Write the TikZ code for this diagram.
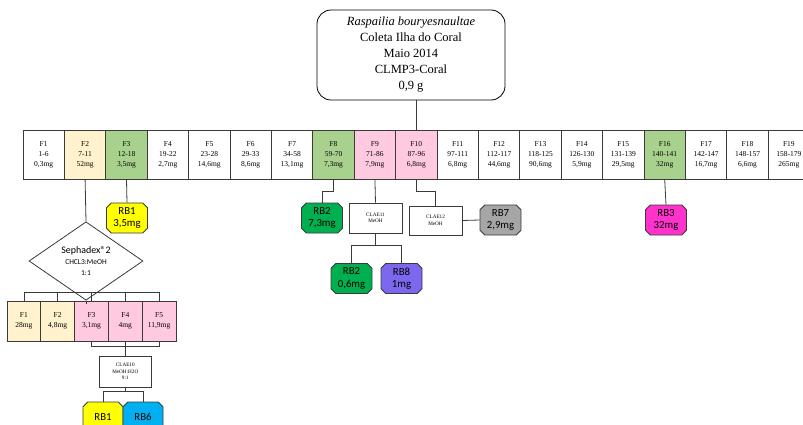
\documentclass[tikz,border=0pt]{standalone}
\usepackage{fontspec}
\setmainfont{Liberation Serif}
\newfontfamily\calib{Carlito}
\usetikzlibrary{shapes.geometric,shapes.misc}

\definecolor{lnc}{HTML}{3A3A3A}
\definecolor{cream}{HTML}{FFF2CC}
\definecolor{leaf}{HTML}{A9D18E}
\definecolor{blush}{HTML}{FFCADF}
\definecolor{rbyellow}{HTML}{FFFF00}
\definecolor{rbgreen}{HTML}{00B050}
\definecolor{rbmagenta}{HTML}{FF33CC}
\definecolor{rbcyan}{HTML}{00B0F0}
\definecolor{rbgray}{HTML}{A6A6A6}
\definecolor{rbviolet}{HTML}{7B68EE}

\tikzset{
  link/.style={draw=lnc, line width=0.8pt},
  frac/.style={draw=lnc, line width=0.8pt, minimum width=41.4pt, minimum height=49pt,
    inner sep=0pt, align=center, font=\fontsize{7.5}{10}\selectfont},
  subfrac/.style={draw=lnc, line width=0.8pt, minimum width=33.8pt, minimum height=40pt,
    inner sep=0pt, align=center, font=\fontsize{7.5}{10}\selectfont},
  hplc/.style={draw=lnc, line width=0.8pt, fill=white, inner sep=0pt, align=center,
    font=\fontsize{5.2}{6.5}\selectfont},
  rb/.style={chamfered rectangle, chamfered rectangle xsep=2.4pt, chamfered rectangle ysep=2.4pt,
    draw=lnc, line width=0.8pt, minimum width=41pt, minimum height=30pt, inner sep=0pt,
    align=center, font=\calib\fontsize{10.8}{12.5}\selectfont}
}

\begin{document}
\begin{tikzpicture}[x=1pt,y=-1pt]
\useasboundingbox (0,0) rectangle (803,425);
\clip (0,0) rectangle (803,425);

% sample
\node[draw=black, line width=0.8pt, rounded corners=14pt, minimum width=188pt, minimum height=90pt,
  align=center, font=\fontsize{12.5}{16}\selectfont] (src) at (411,55)
  {\textit{Raspailia bouryesnaultae}\\Coleta Ilha do Coral\\Maio 2014\\CLMP3-Coral\\0,9 g};

% first fractionation
\node[frac] (f1) at (43.7,154.5) {F1\\1-6\\0,3mg};
\node[frac, fill=cream] (f2) at (85.1,154.5) {F2\\7-11\\52mg};
\node[frac, fill=leaf] (f3) at (126.5,154.5) {F3\\12-18\\3,5mg};
\node[frac] (f4) at (167.9,154.5) {F4\\19-22\\2,7mg};
\node[frac] (f5) at (209.3,154.5) {F5\\23-28\\14,6mg};
\node[frac] (f6) at (250.7,154.5) {F6\\29-33\\8,6mg};
\node[frac] (f7) at (292.1,154.5) {F7\\34-58\\13,1mg};
\node[frac, fill=leaf] (f8) at (333.5,154.5) {F8\\59-70\\7,3mg};
\node[frac, fill=blush] (f9) at (374.9,154.5) {F9\\71-86\\7,9mg};
\node[frac, fill=blush] (f10) at (416.3,154.5) {F10\\87-96\\6,8mg};
\node[frac] (f11) at (457.7,154.5) {F11\\97-111\\6,8mg};
\node[frac] (f12) at (499.1,154.5) {F12\\112-117\\44,6mg};
\node[frac] (f13) at (540.5,154.5) {F13\\118-125\\90,6mg};
\node[frac] (f14) at (581.9,154.5) {F14\\126-130\\5,9mg};
\node[frac] (f15) at (623.3,154.5) {F15\\131-139\\29,5mg};
\node[frac, fill=leaf] (f16) at (664.7,154.5) {F16\\140-141\\32mg};
\node[frac] (f17) at (706.1,154.5) {F17\\142-147\\16,7mg};
\node[frac] (f18) at (747.5,154.5) {F18\\148-157\\6,6mg};
\node[frac] (f19) at (788.9,154.5) {F19\\158-179\\265mg};

\draw[link] (src.south -| f10) -- (f10.north);

% F2 branch: Sephadex column
\node[diamond, draw=lnc, line width=0.8pt, fill=white, minimum width=114pt, minimum height=58pt,
  inner sep=0pt, align=center] (dia) at (86,261)
  {{\calib\fontsize{10}{12}\selectfont Sephadex®2}\\[-1pt]
   {\calib\fontsize{7.5}{12}\selectfont CHCL3:MeOH}\\[-1pt]
   {\calib\fontsize{7.5}{10}\selectfont 1:1}};
\draw[link] (f2.south) -- (dia.north);

\node[rb, fill=rbyellow] (rb1a) at (127,218) {RB1\\3,5mg};
\draw[link] (f3.south) -- (rb1a.north);

\node[subfrac, fill=cream] (g1) at (23.9,321) {F1\\28mg};
\node[subfrac, fill=cream] (g2) at (57.7,321) {F2\\4,8mg};
\node[subfrac, fill=blush] (g3) at (91.5,321) {F3\\3,1mg};
\node[subfrac, fill=blush] (g4) at (125.3,321) {F4\\4mg};
\node[subfrac, fill=blush] (g5) at (159.1,321) {F5\\11,9mg};

\draw[link] (dia.south) -- ++(0,3);
\draw[link] (g1.north) -- ++(0,-8) -| (g5.north);
\foreach \g in {g2,g3,g4} \draw[link] (\g.north) -- ++(0,-8);

\node[hplc, minimum width=52pt, minimum height=31pt] (c10) at (125.3,371.5) {CLAE10\\MeOH:H2O\\9:1};
\draw[link] (g3.south) -- ++(0,5) -| (g5.south);
\draw[link] (g4.south) -- (c10.north);

\node[rb, fill=rbyellow, minimum width=40pt] (rb1b) at (103,417) {RB1};
\node[rb, fill=rbcyan, minimum width=40pt] (rb6) at (143,417) {RB6};
\draw[link] (c10.south) -- ++(0,5);
\draw[link] (rb1b.north) -- ++(0,-10) -| (rb6.north);

% F8, F9, F10 branches
\node[rb, fill=rbgreen] (rb2a) at (322,218) {RB2\\7,3mg};
\draw[link] (f8.south) -- ++(0,12) -| (rb2a.north);

\node[hplc, minimum width=53pt, minimum height=30pt] (c11) at (375.5,218) {CLAE11\\MeOH};
\draw[link] (f9.south) -- (c11.north);

\node[hplc, minimum width=53pt, minimum height=29pt] (c12) at (435.5,220.5) {CLAE12\\MeOH};
\draw[link] (f10.south) -- ++(0,12) -| (c12.north);

\node[rb, fill=rbgray] (rb7) at (500.5,220) {RB7\\2,9mg};
\draw[link] (c12.east) -- (rb7.west);

\node[rb, fill=rbgreen] (rb2b) at (351.5,278.5) {RB2\\0,6mg};
\node[rb, fill=rbviolet] (rb8) at (401.5,278.5) {RB8\\1mg};
\draw[link] (c11.south) -- ++(0,12);
\draw[link] (rb2b.north) -- ++(0,-18) -| (rb8.north);

% F16 branch
\node[rb, fill=rbmagenta] (rb3) at (666,220) {RB3\\32mg};
\draw[link] (f16.south) -- (rb3.north);

\end{tikzpicture}
\end{document}
